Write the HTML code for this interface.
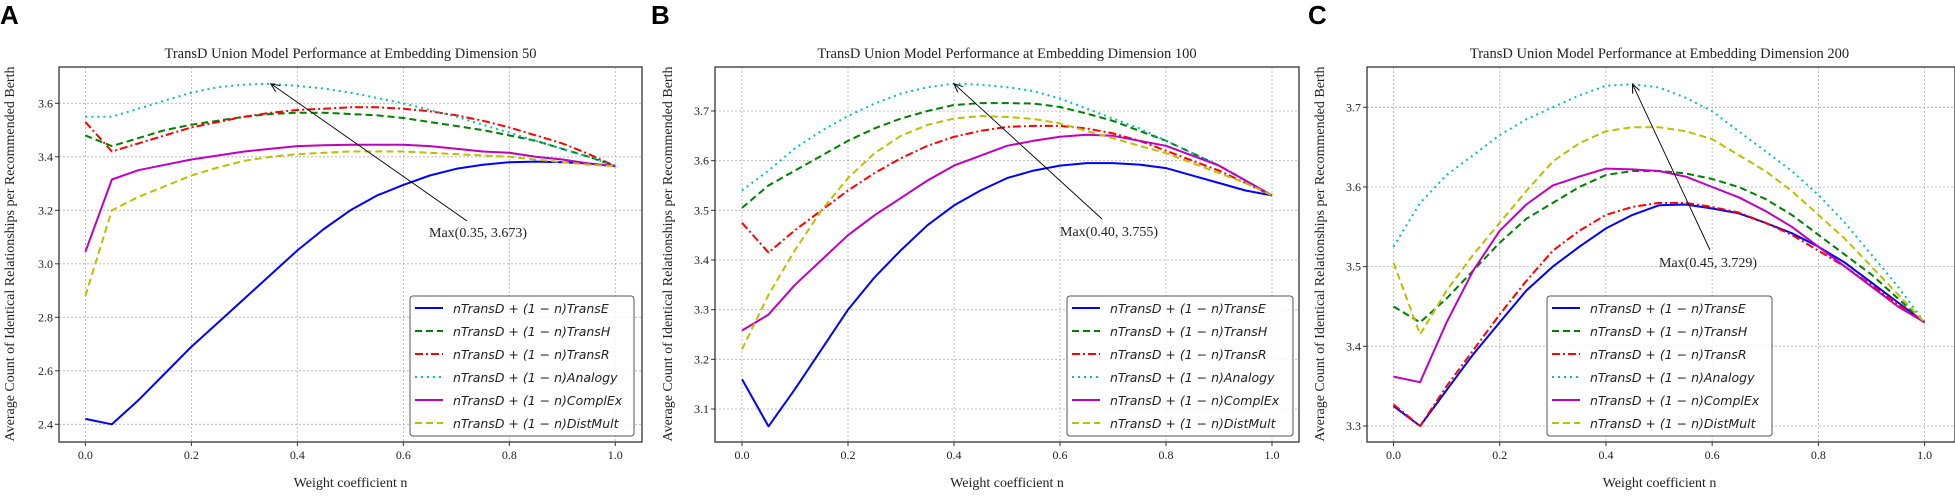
<!DOCTYPE html>
<html><head><meta charset="utf-8">
<style>
html,body{margin:0;padding:0;background:#fff;}
svg{display:block;}
.tk{font-family:"Liberation Serif",serif;font-size:12px;fill:#222;}
.ttl{font-family:"Liberation Serif",serif;font-size:14.5px;fill:#222;}
.lab{font-family:"Liberation Serif",serif;font-size:14px;fill:#222;}
.lg{font-family:"DejaVu Sans",sans-serif;font-style:italic;font-size:12.5px;fill:#222;}
.pl{font-family:"Liberation Sans",sans-serif;font-weight:bold;font-size:26px;fill:#000;}
</style></head>
<body>
<svg id="fig" width="1955" height="496" viewBox="0 0 1955 496">
<defs><marker id="ah" markerWidth="10" markerHeight="8" refX="9" refY="4" orient="auto" markerUnits="userSpaceOnUse"><path d="M0,0 L9,4 L0,8" fill="none" stroke="#000" stroke-width="1"/></marker></defs>
</svg>
<script>
const xs = [0,0.05,0.1,0.15,0.2,0.25,0.3,0.35,0.4,0.45,0.5,0.55,0.6,0.65,0.7,0.75,0.8,0.85,0.9,0.95,1.0];
const seriesNames = ["TransE","TransH","TransR","Analogy","ComplEx","DistMult"];
const xTicks = [0,0.2,0.4,0.6,0.8,1.0];
const xTickLabels = ["0.0","0.2","0.4","0.6","0.8","1.0"];
// Panel A (dim 50)
const a_TransE = [2.42,2.40,2.49,2.59,2.69,2.78,2.87,2.96,3.05,3.13,3.20,3.255,3.295,3.33,3.355,3.37,3.38,3.382,3.38,3.375,3.365];
const a_TransH = [3.48,3.44,3.47,3.50,3.52,3.535,3.55,3.56,3.565,3.565,3.56,3.555,3.545,3.53,3.515,3.50,3.48,3.46,3.43,3.40,3.365];
const a_TransR = [3.53,3.42,3.45,3.48,3.51,3.53,3.55,3.565,3.575,3.58,3.585,3.585,3.58,3.57,3.555,3.535,3.51,3.48,3.45,3.41,3.365];
const a_Analogy = [3.55,3.55,3.58,3.61,3.64,3.66,3.67,3.673,3.665,3.655,3.64,3.62,3.60,3.575,3.55,3.52,3.49,3.46,3.43,3.40,3.365];
const a_ComplEx = [3.045,3.315,3.35,3.37,3.39,3.405,3.42,3.43,3.44,3.443,3.445,3.445,3.445,3.44,3.43,3.42,3.415,3.40,3.39,3.375,3.365];
const a_DistMult = [2.88,3.20,3.25,3.29,3.33,3.36,3.385,3.40,3.41,3.415,3.42,3.42,3.42,3.415,3.41,3.405,3.40,3.39,3.38,3.37,3.365];
const a_yTicks = [2.4,2.6,2.8,3.0,3.2,3.4,3.6];
// Panel B (dim 100)
const b_TransE = [3.16,3.065,3.14,3.22,3.30,3.365,3.42,3.47,3.51,3.54,3.565,3.58,3.59,3.595,3.595,3.592,3.585,3.57,3.555,3.54,3.53];
const b_TransH = [3.505,3.55,3.58,3.61,3.64,3.665,3.685,3.70,3.712,3.716,3.716,3.715,3.708,3.695,3.68,3.66,3.64,3.615,3.59,3.56,3.53];
const b_TransR = [3.475,3.415,3.46,3.50,3.54,3.575,3.605,3.63,3.648,3.66,3.668,3.67,3.67,3.665,3.655,3.64,3.62,3.60,3.58,3.555,3.53];
const b_Analogy = [3.54,3.58,3.625,3.66,3.69,3.715,3.735,3.748,3.755,3.753,3.748,3.74,3.725,3.705,3.685,3.665,3.64,3.615,3.59,3.56,3.53];
const b_ComplEx = [3.258,3.29,3.35,3.40,3.45,3.49,3.525,3.56,3.59,3.61,3.63,3.64,3.648,3.652,3.65,3.64,3.63,3.61,3.59,3.56,3.53];
const b_DistMult = [3.22,3.33,3.42,3.50,3.565,3.615,3.65,3.672,3.685,3.69,3.688,3.684,3.675,3.66,3.645,3.63,3.615,3.595,3.575,3.555,3.53];
const b_yTicks = [3.1,3.2,3.3,3.4,3.5,3.6,3.7];
// Panel C (dim 200)
const c_TransE = [3.325,3.30,3.345,3.39,3.43,3.47,3.50,3.525,3.548,3.565,3.577,3.578,3.573,3.567,3.555,3.542,3.525,3.505,3.48,3.455,3.43];
const c_TransH = [3.45,3.43,3.46,3.495,3.53,3.56,3.58,3.60,3.615,3.62,3.62,3.617,3.61,3.60,3.585,3.565,3.54,3.515,3.49,3.46,3.43];
const c_TransR = [3.327,3.30,3.35,3.395,3.44,3.482,3.52,3.545,3.565,3.575,3.58,3.58,3.575,3.568,3.555,3.54,3.52,3.50,3.477,3.453,3.43];
const c_Analogy = [3.525,3.58,3.615,3.64,3.665,3.685,3.70,3.715,3.727,3.729,3.725,3.712,3.695,3.67,3.645,3.62,3.59,3.555,3.515,3.475,3.43];
const c_ComplEx = [3.362,3.355,3.43,3.495,3.545,3.578,3.602,3.613,3.623,3.622,3.62,3.613,3.60,3.587,3.57,3.55,3.525,3.50,3.475,3.45,3.43];
const c_DistMult = [3.505,3.415,3.47,3.515,3.555,3.595,3.632,3.655,3.67,3.675,3.675,3.67,3.66,3.64,3.62,3.595,3.565,3.535,3.50,3.465,3.43];
const c_yTicks = [3.3,3.4,3.5,3.6,3.7];
const maxX = [0.35,0.40,0.45];
const maxY = [3.673,3.755,3.729];
const maxLabels = ["Max(0.35, 3.673)","Max(0.40, 3.755)","Max(0.45, 3.729)"];
const titles = ["TransD Union Model Performance at Embedding Dimension 50","TransD Union Model Performance at Embedding Dimension 100","TransD Union Model Performance at Embedding Dimension 200"];

const styles = [
 {c:"#0000ff",d:""},
 {c:"#008000",d:"7,4"},
 {c:"#ff0000",d:"8,3,2,3"},
 {c:"#00bfbf",d:"2,4"},
 {c:"#bf00bf",d:""},
 {c:"#bfbf00",d:"7,4"}
];
const NS="http://www.w3.org/2000/svg";
const svg=document.getElementById('fig');
function mk(t,a,p){const e=document.createElementNS(NS,t);for(const k in a)e.setAttribute(k,a[k]);(p||svg).appendChild(e);return e;}

const panels=[
 {id:"a",L:"A",lx:0,fx0:59,fx1:642,x0:85.4,x1:615.3,v0:3.6,p0:103.3,v1:2.4,p1:424.3,yt:a_yTicks,dec:1,ser:[a_TransE,a_TransH,a_TransR,a_Analogy,a_ComplEx,a_DistMult],leg:[410,634],ylx:9,tail:[467,221],txt:[429,237]},
 {id:"b",L:"B",lx:651,fx0:715,fx1:1299,x0:742,x1:1272,v0:3.7,p0:111,v1:3.1,p1:409,yt:b_yTicks,dec:1,ser:[b_TransE,b_TransH,b_TransR,b_Analogy,b_ComplEx,b_DistMult],leg:[1067,1293],ylx:667,tail:[1102,219],txt:[1060,236]},
 {id:"c",L:"C",lx:1308,fx0:1367,fx1:1955,x0:1393.5,x1:1924.6,v0:3.7,p0:107.3,v1:3.3,p1:426,yt:c_yTicks,dec:1,ser:[c_TransE,c_TransH,c_TransR,c_Analogy,c_ComplEx,c_DistMult],leg:[1547,1772],ylx:1319,tail:[1710,250],txt:[1659,267]}
];
const FT=67,FB=442;
panels.forEach((P,pi)=>{
 const g=mk('g',{});
 
 
 const X=v=>P.x0+(P.x1-P.x0)*v;
 const Y=v=>P.p0+(P.p1-P.p0)*(v-P.v0)/(P.v1-P.v0);
 const pl=mk('text',{x:P.lx,y:24,class:'pl'},g);pl.textContent=P.L;
 
 
 const cx=(P.fx0+Math.min(P.fx1,1952))/2;
 const t=mk('text',{x:cx,y:58,class:'ttl','text-anchor':'middle'},g);t.textContent=titles[pi];
 
 
 xTicks.forEach((v,i)=>{
  const l=mk('line',{x1:X(v),x2:X(v),y1:FT,y2:FB,stroke:'#b0b0b0','stroke-width':0.8,'stroke-dasharray':'2,2'},g);
  
  
  mk('line',{x1:X(v),x2:X(v),y1:FB,y2:FB+4,stroke:'#333'},g);
  const tt=mk('text',{x:X(v),y:FB+17,class:'tk','text-anchor':'middle'},g);tt.textContent=xTickLabels[i];
  
  
 });
 P.yt.forEach(v=>{
  const l=mk('line',{x1:P.fx0,x2:P.fx1,y1:Y(v),y2:Y(v),stroke:'#b0b0b0','stroke-width':0.8,'stroke-dasharray':'2,2'},g);
  
  
  mk('line',{x1:P.fx0-4,x2:P.fx0,y1:Y(v),y2:Y(v),stroke:'#333'},g);
  const tt=mk('text',{x:P.fx0-6,y:Y(v)+4,class:'tk','text-anchor':'end'},g);tt.textContent=v.toFixed(P.dec);
  
  
 });
 P.ser.forEach((arr,si)=>{
  const pts=arr.map((v,i)=>X(xs[i]).toFixed(1)+','+Y(v).toFixed(1)).join(' ');
  const a={points:pts,fill:'none',stroke:styles[si].c,'stroke-width':2,'stroke-linejoin':'round'};
  if(styles[si].d)a['stroke-dasharray']=styles[si].d;
  const pl=mk('polyline',a,g);
  
  
 });
 const fr=mk('rect',{x:P.fx0,y:FT,width:P.fx1-P.fx0,height:FB-FT,fill:'none',stroke:'#333','stroke-width':1.3},g);
 
 
 const ar=mk('line',{x1:P.tail[0],y1:P.tail[1],x2:X(maxX[pi]),y2:Y(maxY[pi]),stroke:'#000','stroke-width':0.9,'marker-end':'url(#ah)'},g);
 
 
 const at=mk('text',{x:P.txt[0],y:P.txt[1],class:'lab'},g);at.textContent=maxLabels[pi];
 
 
 const xl=mk('text',{x:(P.fx0+Math.min(P.fx1,1952))/2,y:487,class:'lab','text-anchor':'middle'},g);xl.textContent='Weight coefficient n';
 
 
 const yl=mk('text',{x:0,y:0,class:'lab','text-anchor':'middle',transform:`translate(${P.ylx+5},254) rotate(-90)`},g);
 yl.textContent='Average Count of Identical Relationships per Recommended Berth';
 
 
 const lg=mk('g',{},g);
 
 
 mk('rect',{x:P.leg[0],y:296,width:P.leg[1]-P.leg[0],height:140,rx:3,fill:'#fff','fill-opacity':0.85,stroke:'#555','stroke-width':1},lg);
 seriesNames.forEach((n,si)=>{
  const yy=308+si*23;
  const a={x1:P.leg[0]+5,x2:P.leg[0]+33,y1:yy,y2:yy,stroke:styles[si].c,'stroke-width':2};
  if(styles[si].d)a['stroke-dasharray']=styles[si].d;
  mk('line',a,lg);
  const tx=mk('text',{x:P.leg[0]+43,y:yy+5,class:'lg'},lg);
  tx.textContent='nTransD + (1 \u2212 n)'+n;
  
  
 });
});
</script>
</body></html>
